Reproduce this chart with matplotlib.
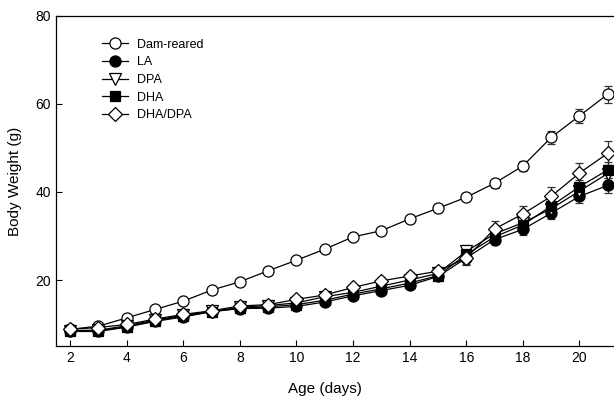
import matplotlib
matplotlib.use('Agg')
import matplotlib.pyplot as plt

plt.rcParams['font.family'] = ['Liberation Sans', 'DejaVu Sans']

# Daten
days = list(range(2, 22))
dam = [8.8, 9.5, 11.4, 13.3, 15.2, 17.7, 19.6, 22.1, 24.5, 27.0, 29.8, 31.2, 33.9, 36.3, 38.8, 42.0, 45.9, 52.4, 57.3, 62.2]
la = [8.3, 8.3, 9.3, 10.6, 11.6, 12.8, 13.5, 13.6, 14.0, 15.0, 16.4, 17.6, 18.8, 20.8, 25.0, 29.2, 31.5, 35.2, 39.0, 41.5]
dpa = [8.5, 8.6, 9.6, 10.9, 12.0, 12.9, 13.8, 14.2, 14.8, 16.2, 17.2, 18.6, 20.0, 21.5, 26.5, 30.5, 33.0, 36.2, 40.2, 44.2]
dha = [8.4, 8.4, 9.4, 10.7, 11.8, 12.8, 13.6, 13.9, 14.4, 15.4, 16.8, 18.0, 19.3, 21.0, 25.8, 29.8, 32.5, 36.8, 41.2, 45.0]
dhadpa = [8.8, 9.2, 9.9, 11.1, 12.2, 13.0, 14.1, 14.4, 15.6, 16.6, 18.3, 19.8, 20.9, 22.0, 25.0, 31.6, 35.0, 39.0, 44.3, 48.8]

dam_err = [0.3, 0.3, 0.3, 0.4, 0.4, 0.4, 0.5, 0.5, 0.6, 0.6, 0.7, 0.7, 0.8, 0.8, 0.9, 1.0, 1.1, 1.5, 1.6, 1.9]
la_err = [0.3, 0.3, 0.4, 0.4, 0.4, 0.5, 0.5, 0.5, 0.6, 0.7, 0.7, 0.8, 0.8, 0.9, 1.3, 1.1, 1.2, 1.3, 1.4, 1.7]
dpa_err = [0.3, 0.3, 0.4, 0.4, 0.4, 0.5, 0.5, 0.6, 0.6, 1.0, 0.7, 0.8, 0.9, 0.9, 1.4, 1.5, 1.6, 1.8, 1.9, 2.0]
dha_err = [0.3, 0.3, 0.4, 0.4, 0.4, 0.5, 0.5, 0.5, 0.6, 0.7, 0.7, 0.8, 0.8, 0.9, 1.3, 1.2, 1.3, 1.5, 1.6, 1.8]
dhadpa_err = [0.3, 0.3, 0.4, 0.4, 0.4, 0.5, 0.5, 0.5, 0.6, 0.7, 0.7, 0.8, 0.9, 0.9, 1.6, 1.8, 1.9, 2.1, 2.4, 2.7]

labels = ['Dam-reared', 'LA', 'DPA', 'DHA', 'DHA/DPA']

fig = plt.figure(figsize=(6.14, 3.96), dpi=100)
# Achse ragt rechts über den Bildrand hinaus (wie im Original abgeschnitten)
ax = fig.add_axes([56 / 614, 50 / 396, 580 / 614, 330 / 396])

series = [
    (dam, dam_err, 'o', 'white', 8),
    (la, la_err, 'o', 'black', 8),
    (dpa, dpa_err, 'v', 'white', 8),
    (dha, dha_err, 's', 'black', 7),
    (dhadpa, dhadpa_err, 'D', 'white', 7.5),
]

for (vals, err, mk, fc, ms), lab in zip(series, labels):
    ax.errorbar(days, vals, yerr=err, fmt='-', marker=mk, color='black',
                mfc=fc, mec='black', ms=ms, lw=0.9, mew=0.9,
                ecolor='#333333', elinewidth=0.9, capsize=3, capthick=0.9,
                label=lab)

ax.set_xlim(1.5, 22)
ax.set_ylim(5, 80)
ax.set_xticks(range(2, 22, 2))
ax.set_yticks([20, 40, 60, 80])
ax.tick_params(direction='in', length=4, width=0.8, labelsize=10)
for s in ax.spines.values():
    s.set_linewidth(0.9)

ax.set_xlabel('Age (days)', fontsize=11)
ax.xaxis.set_label_coords((325 - 56) / 580, -0.108)
ax.set_ylabel('Body Weight (g)', fontsize=11)
ax.yaxis.set_label_coords(-0.058, 0.5)

handles, labs = ax.get_legend_handles_labels()
handles = [h[0] for h in handles]
ax.legend(handles, labs, loc='upper left', bbox_to_anchor=(0.07, 0.946),
          frameon=False, fontsize=9, handlelength=2.1, labelspacing=0.45,
          handletextpad=0.7, borderaxespad=0)

fig.savefig('out.png', dpi=100)
